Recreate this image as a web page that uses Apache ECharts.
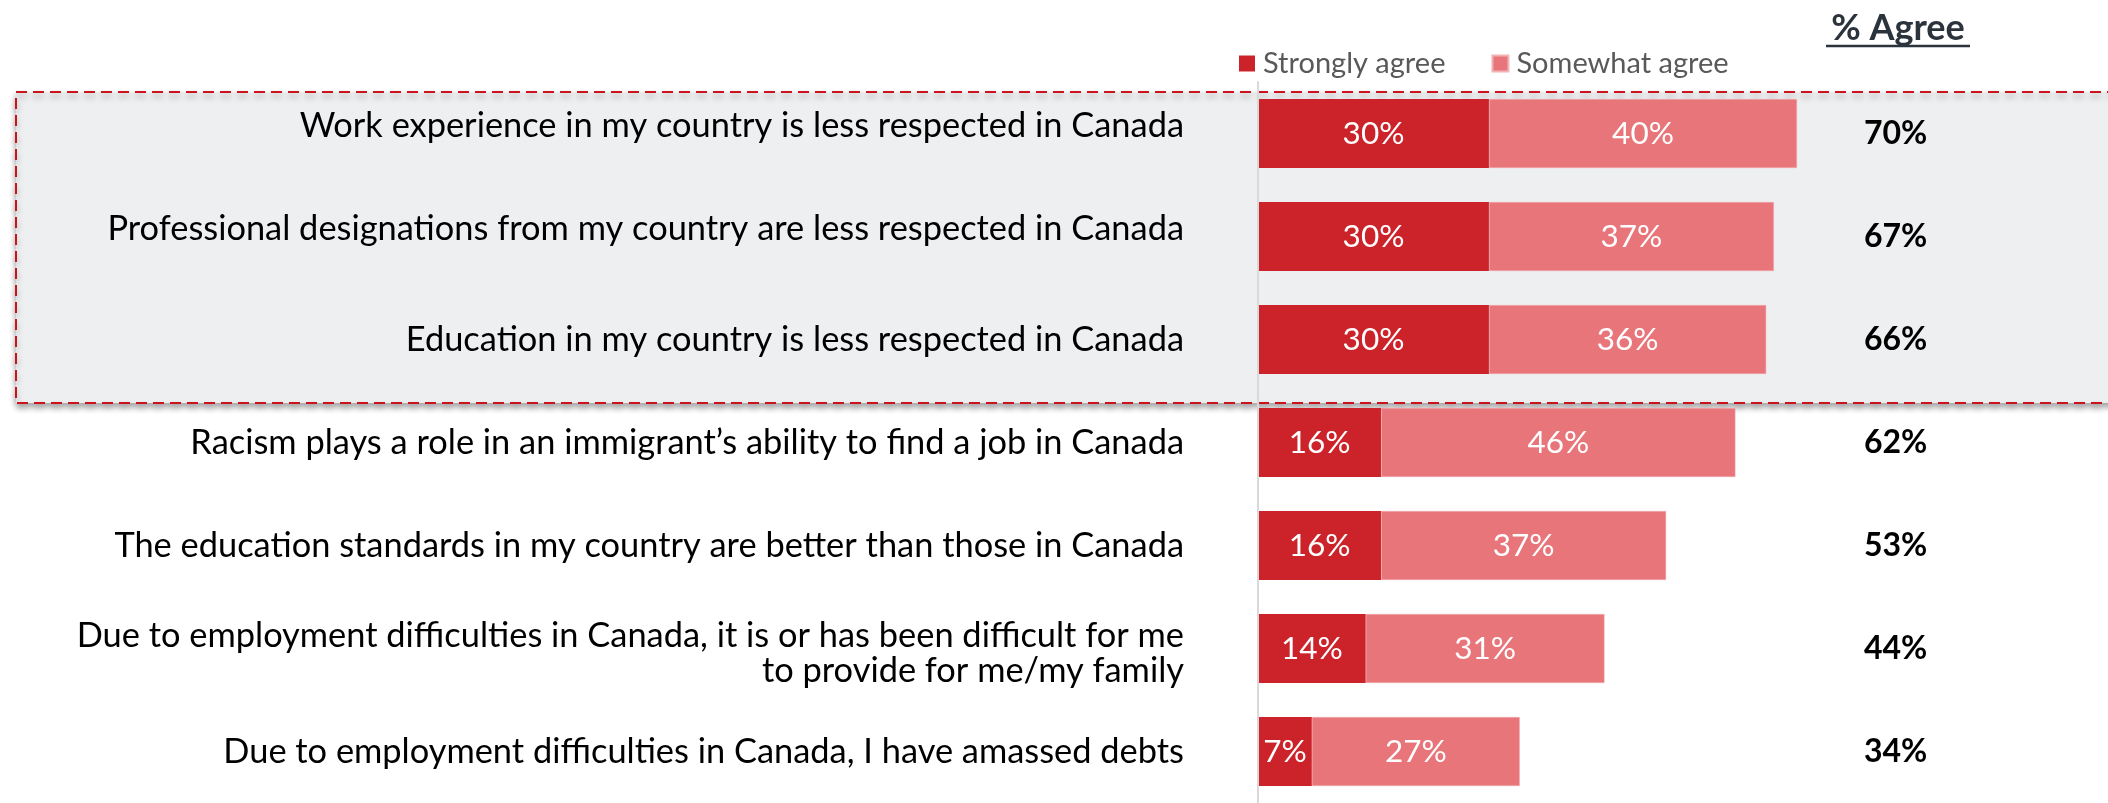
<!DOCTYPE html>
<html>
<head>
<meta charset="utf-8">
<script src="https://cdn.jsdelivr.net/npm/echarts@6/dist/echarts.min.js"></script>
<style>
  html, body { margin: 0; padding: 0; background: #ffffff; }
  #chart { width: 2108px; height: 803px; }
</style>
</head>
<body>
<div id="chart"></div>
<script>
// Survey statements, top to bottom
const statements = [
  'Work experience in my country is less respected in Canada',
  'Professional designations from my country are less respected in Canada',
  'Education in my country is less respected in Canada',
  'Racism plays a role in an immigrant\u2019s ability to find a job in Canada',
  'The education standards in my country are better than those in Canada',
  'Due to employment difficulties in Canada, it is or has been difficult for me\nto provide for me/my family',
  'Due to employment difficulties in Canada, I have amassed debts'
];
const stronglyAgree = [30, 30, 30, 16, 16, 14, 7];
const somewhatAgree = [40, 37, 36, 46, 37, 31, 27];
const totalAgree = [70, 67, 66, 62, 53, 44, 34];
const seriesNames = ['Strongly agree', 'Somewhat agree'];
const totalHeader = '% Agree';

const FONT = 'Lato, "Open Sans", sans-serif';
const LABEL_SIZE = 34.4;
const LABEL_LINE = 47;
const pct = v => v + '%';

// rich-text style per statement label: 'up' lifts the label a little, 'dn' lowers a two-line label
const labelStyleKey = ['up', 'up', 'n', 'n', 'n', 'dn', 'n'];

const richBase = { fontFamily: FONT, fontSize: LABEL_SIZE, lineHeight: LABEL_LINE, color: '#000000' };

function styledLabel(value, index) {
  const key = labelStyleKey[index];
  return value.split('\n')
    .map((line, j) => {
      let k = key;
      if (key === 'dn') k = j === 0 ? 'dn' : 'dn2';
      return `{${k}|${line}}`;
    })
    .join('\n');
}

const chart = echarts.init(document.getElementById('chart'), null, { renderer: 'canvas' });

const barLabel = {
  show: true,
  position: 'inside',
  color: '#ffffff',
  fontFamily: FONT,
  fontSize: 31.5,
  formatter: p => pct(p.value)
};

chart.setOption({
  animation: false,
  backgroundColor: '#ffffff',
  legend: {
    data: seriesNames,
    left: 1234,
    top: 44,
    icon: 'rect',
    itemWidth: 16,
    itemHeight: 16,
    itemGap: 46,
    textStyle: { fontFamily: FONT, fontSize: 29, color: '#595959', padding: [0, 0, 0, 3] }
  },
  grid: { left: 1258, top: 82, width: 600.6, height: 724, containLabel: false },
  xAxis: { type: 'value', min: 0, max: 78, show: false },
  yAxis: [
    {
      type: 'category',
      data: statements,
      inverse: true,
      z: 5,
      axisLine: { show: true, lineStyle: { color: '#d9d9d9', width: 2 } },
      axisTick: { show: false },
      axisLabel: {
        margin: 74,
        align: 'right',
        fontFamily: FONT,
        fontSize: LABEL_SIZE,
        lineHeight: LABEL_LINE,
        color: '#000000',
        formatter: styledLabel,
        rich: {
          n: Object.assign({}, richBase),
          up: Object.assign({}, richBase, { padding: [0, 0, 16, 0] }),
          dn: Object.assign({}, richBase, { lineHeight: 44, padding: [18, 0, 0, 0] }),
          dn2: Object.assign({}, richBase, { lineHeight: 44 })
        }
      }
    },
    {
      type: 'category',
      data: totalAgree.map(pct),
      inverse: true,
      position: 'right',
      axisLine: { show: false },
      axisTick: { show: false },
      axisLabel: {
        margin: 37,
        align: 'center',
        fontFamily: FONT,
        fontSize: 32,
        fontWeight: 'bold',
        color: '#000000'
      }
    }
  ],
  graphic: [
    {
      type: 'rect',
      z: -10,
      shape: { x: 16, y: 92, width: 2120, height: 311 },
      style: {
        fill: '#eeeff1',
        stroke: '#c9141e',
        lineWidth: 2,
        lineDash: [11, 6],
        shadowBlur: 6,
        shadowOffsetY: 4,
        shadowColor: 'rgba(0,0,0,0.35)'
      }
    },
    {
      type: 'text',
      x: 1898,
      y: 28,
      style: {
        text: totalHeader,
        align: 'center',
        verticalAlign: 'middle',
        fontFamily: FONT,
        fontSize: 36,
        fontWeight: 'bold',
        fill: '#2b333d'
      }
    },
    {
      type: 'line',
      shape: { x1: 1826, y1: 46, x2: 1970, y2: 46 },
      style: { stroke: '#2b333d', lineWidth: 2.5 }
    }
  ],
  series: [
    {
      name: seriesNames[0],
      type: 'bar',
      stack: 'agree',
      barWidth: 69,
      data: stronglyAgree,
      itemStyle: { color: '#cc232b' },
      label: barLabel
    },
    {
      name: seriesNames[1],
      type: 'bar',
      stack: 'agree',
      barWidth: 69,
      data: somewhatAgree,
      itemStyle: { color: '#e8757a', borderColor: '#f2b3b6', borderWidth: 0.5 },
      label: barLabel
    }
  ]
});
</script>
</body>
</html>
